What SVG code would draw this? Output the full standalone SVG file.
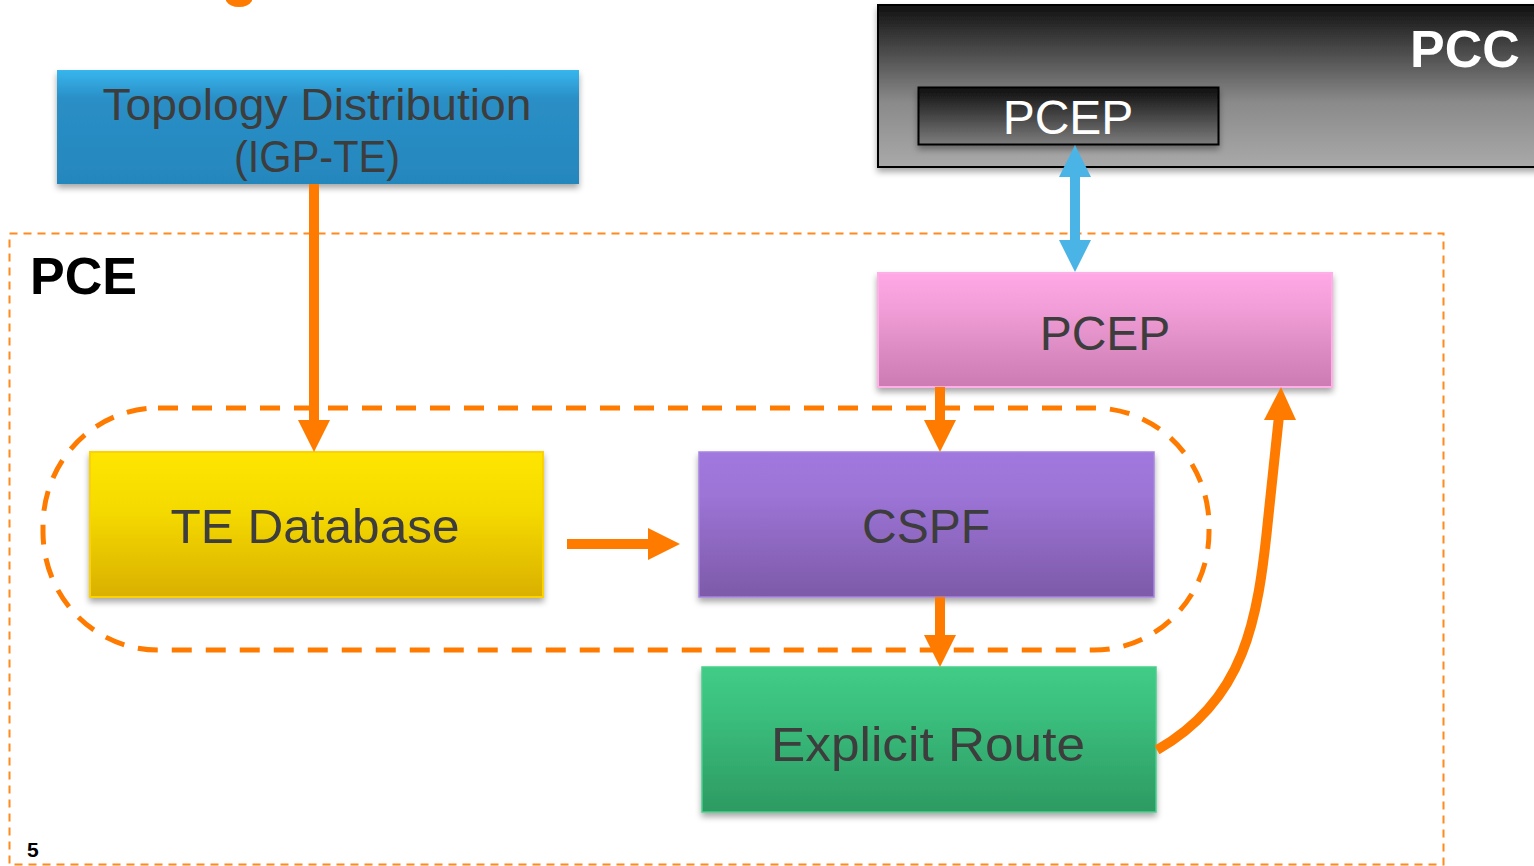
<svg xmlns="http://www.w3.org/2000/svg" width="1534" height="866" viewBox="0 0 1534 866">
<style>
.lbl{font-family:"Liberation Sans",Arial,sans-serif;fill:#3d3d3d;text-anchor:middle}
.conn{stroke:#ff7b00;fill:none;stroke-width:10}
.head{fill:#ff7b00}
</style>
<defs>
<linearGradient id="gBlue" x1="0" y1="0" x2="0" y2="1"><stop offset="0" stop-color="#37b6ee"/><stop offset="0.25" stop-color="#2a8fc6"/><stop offset="1" stop-color="#2487bd"/></linearGradient>
<linearGradient id="gPcc" x1="0" y1="0" x2="0" y2="1"><stop offset="0" stop-color="#111"/><stop offset="0.6" stop-color="#8a8a8a"/><stop offset="1" stop-color="#a9a9a9"/></linearGradient>
<linearGradient id="gPcep1" x1="0" y1="0" x2="0" y2="1"><stop offset="0" stop-color="#0e0e0e"/><stop offset="1" stop-color="#7d7d7d"/></linearGradient>
<linearGradient id="gPink" x1="0" y1="0" x2="0" y2="1"><stop offset="0" stop-color="#ffa8e6"/><stop offset="0.3" stop-color="#f29ed8"/><stop offset="1" stop-color="#cb7cb1"/></linearGradient>
<linearGradient id="gYel" x1="0" y1="0" x2="0" y2="1"><stop offset="0" stop-color="#ffe600"/><stop offset="0.4" stop-color="#f5da00"/><stop offset="1" stop-color="#d9b000"/></linearGradient>
<linearGradient id="gPur" x1="0" y1="0" x2="0" y2="1"><stop offset="0" stop-color="#a178de"/><stop offset="0.3" stop-color="#9c74d6"/><stop offset="1" stop-color="#7d5aa8"/></linearGradient>
<linearGradient id="gGrn" x1="0" y1="0" x2="0" y2="1"><stop offset="0" stop-color="#40cc86"/><stop offset="0.3" stop-color="#3bc07e"/><stop offset="1" stop-color="#2d9a62"/></linearGradient>
<filter id="sh" x="-5%" y="-10%" width="110%" height="130%"><feDropShadow dx="0" dy="4" stdDeviation="3" flood-color="#000" flood-opacity="0.35"/></filter>
</defs>

<path d="M226,0 L252,0 L252,1 Q248,7 239,7 Q230,7 226,1 z" fill="#ff7b00"/>

<g id="pce-frame">
<rect x="9.5" y="233.5" width="1434" height="631" fill="none" stroke="#ff8a1e" stroke-width="2" stroke-dasharray="8,6"/>
<text x="30" y="294" font-family="Liberation Sans,Arial,sans-serif" font-weight="bold" font-size="52" fill="#000" textLength="107" lengthAdjust="spacingAndGlyphs">PCE</text>
</g>

<g id="loop">
<rect x="43" y="408" width="1166" height="242" rx="115" ry="118" fill="none" stroke="#ff7b00" stroke-width="5" stroke-dasharray="20,14"/>
</g>

<g id="pcc">
<rect x="878" y="5" width="670" height="162" fill="url(#gPcc)" stroke="#000" stroke-width="2" filter="url(#sh)"/>
<text x="1465" y="67" font-family="Liberation Sans,Arial,sans-serif" font-weight="bold" font-size="52" fill="#fff" text-anchor="middle">PCC</text>
</g>

<g id="pcc-pcep">
<rect x="918.5" y="87.5" width="300" height="57" fill="url(#gPcep1)" stroke="#000" stroke-width="2" filter="url(#sh)"/>
<text x="1068" y="134" font-family="Liberation Sans,Arial,sans-serif" font-size="48" fill="#fff" text-anchor="middle">PCEP</text>
</g>

<g id="topology">
<rect x="57" y="70" width="522" height="114" fill="url(#gBlue)" filter="url(#sh)"/>
<text class="lbl" x="317" y="120" font-size="45" textLength="429" lengthAdjust="spacingAndGlyphs">Topology Distribution</text>
<text class="lbl" x="317" y="172" font-size="44" textLength="166" lengthAdjust="spacingAndGlyphs">(IGP-TE)</text>
</g>

<g id="pce-pcep">
<rect x="878" y="273" width="454" height="114" fill="url(#gPink)" stroke="#ffaee8" stroke-width="2" filter="url(#sh)"/>
<text class="lbl" x="1105" y="350" font-size="48">PCEP</text>
</g>

<g id="te-db">
<rect x="90" y="452" width="453" height="145" fill="url(#gYel)" stroke="#fcd200" stroke-width="2" filter="url(#sh)"/>
<text class="lbl" x="315" y="543" font-size="49" textLength="289" lengthAdjust="spacingAndGlyphs">TE Database</text>
</g>

<g id="cspf">
<rect x="699" y="452" width="455" height="145" fill="url(#gPur)" stroke="#a784e0" stroke-width="1.5" filter="url(#sh)"/>
<text class="lbl" x="926" y="543" font-size="48">CSPF</text>
</g>

<g id="explicit">
<rect x="702" y="667" width="454" height="145" fill="url(#gGrn)" stroke="#48cf8c" stroke-width="1.5" filter="url(#sh)"/>
<text class="lbl" x="928" y="761" font-size="49" textLength="314" lengthAdjust="spacingAndGlyphs">Explicit Route</text>
</g>

<g id="connectors">
<line class="conn" x1="314" y1="184" x2="314" y2="422"/>
<polygon class="head" points="298,420 330,420 314,452"/>
<line class="conn" x1="567" y1="544" x2="650" y2="544"/>
<polygon class="head" points="648,528 648,560 680,544"/>
<line class="conn" x1="940" y1="387" x2="940" y2="422"/>
<polygon class="head" points="924,420 956,420 940,452"/>
<line class="conn" x1="940" y1="597" x2="940" y2="637"/>
<polygon class="head" points="924,635 956,635 940,667"/>
<path class="conn" d="M1157,750 C1245,700 1258,620 1268,520 L1279,416"/>
<polygon class="head" points="1264,420 1281,387 1296,420"/>
<line x1="1075" y1="175" x2="1075" y2="242" stroke="#4bb4e6" stroke-width="10"/>
<polygon points="1059,177 1075,145 1091,177" fill="#4bb4e6"/>
<polygon points="1059,240 1091,240 1075,272" fill="#4bb4e6"/>
</g>

<text x="27" y="857" font-family="Liberation Sans,Arial,sans-serif" font-weight="bold" font-size="21" fill="#000">5</text>
</svg>
